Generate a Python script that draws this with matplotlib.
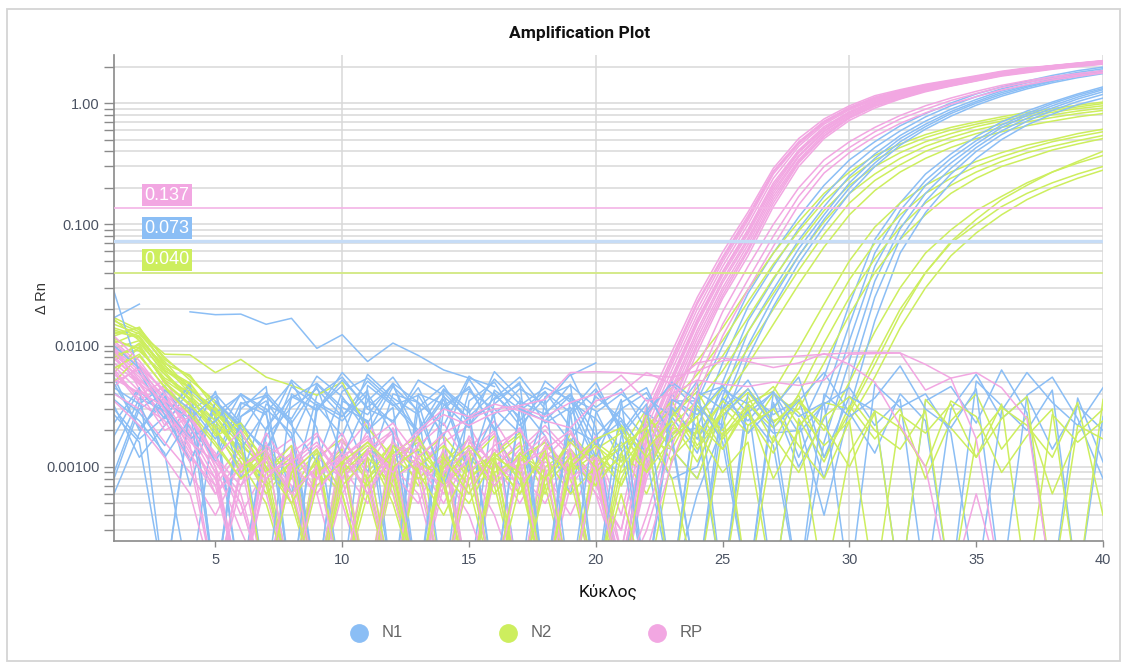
import numpy as np
import matplotlib
matplotlib.use("Agg")
import matplotlib.pyplot as plt
from matplotlib.lines import Line2D
from matplotlib.patches import Rectangle
from matplotlib.ticker import FixedLocator, FixedFormatter, LogLocator, NullFormatter

nan = np.nan

# cycles 1..40
cycles = np.arange(1, 41)

# threshold values per target
targets = ['N1', 'N2', 'RP']
thresholds = [0.073, 0.040, 0.137]
threshold_labels = ['0.073', '0.040', '0.137']

# y tick labels (decades only)
ytick_vals = [0.001, 0.01, 0.1, 1.0]
ytick_labels = ['0.00100', '0.0100', '0.100', '1.00']
xtick_vals = [5, 10, 15, 20, 25, 30, 35, 40]

# delta Rn per well (0.0001 = below the axis floor)
# each well: cycles 1-20 on first line, 21-40 on second
n1_wells = [
    [0.0041, 0.0028, 0.0015, 0.0036, 0.0022, 0.0001, 0.0018, 0.0031, 0.0044, 0.0026, 0.0051, 0.0033, 0.0019, 0.0038, 0.0025, 0.0001, 0.0029, 0.0042, 0.0021, 0.0016,
     0.0024, 0.0010, 0.0035, 0.0035, 0.0100, 0.027, 0.058, 0.115, 0.21, 0.34, 0.48, 0.65, 0.82, 1.00, 1.19, 1.36, 1.52, 1.69, 1.85, 1.98],
    [0.0009, 0.0033, 0.0047, 0.0021, 0.0012, 0.0034, 0.0027, 0.0006, 0.0039, 0.0055, 0.0030, 0.0024, 0.0045, 0.0017, 0.0001, 0.0036, 0.0048, 0.0023, 0.0031, 0.0011,
     0.0001, 0.0028, 0.0019, 0.0021, 0.0072, 0.021, 0.045, 0.092, 0.17, 0.29, 0.43, 0.59, 0.77, 0.95, 1.13, 1.31, 1.47, 1.63, 1.79, 1.92],
    [0.0027, 0.0016, 0.0001, 0.0029, 0.0040, 0.0023, 0.0013, 0.0046, 0.0032, 0.0018, 0.0058, 0.0037, 0.0027, 0.0008, 0.0042, 0.0030, 0.0019, 0.0051, 0.0034, 0.0025,
     0.0014, 0.0001, 0.0026, 0.0013, 0.0050, 0.016, 0.035, 0.074, 0.14, 0.25, 0.38, 0.54, 0.71, 0.89, 1.07, 1.26, 1.41, 1.58, 1.74, 1.86],
    [0.0055, 0.0020, 0.0038, 0.0011, 0.0030, 0.0019, 0.0041, 0.0024, 0.0001, 0.0035, 0.0027, 0.0049, 0.0013, 0.0032, 0.0044, 0.0021, 0.0007, 0.0028, 0.0040, 0.0018,
     0.0030, 0.0017, 0.0008, 0.0010, 0.0038, 0.013, 0.029, 0.063, 0.12, 0.22, 0.35, 0.51, 0.67, 0.85, 1.03, 1.22, 1.38, 1.54, 1.70, 1.83],
    [0.0018, 0.0043, 0.0025, 0.0050, 0.0001, 0.0026, 0.0035, 0.0017, 0.0048, 0.0029, 0.0009, 0.0040, 0.0034, 0.0022, 0.0056, 0.0039, 0.0026, 0.0001, 0.0037, 0.0029,
     0.0011, 0.0026, 0.0014, 0.0008, 0.0030, 0.010, 0.025, 0.055, 0.11, 0.20, 0.32, 0.48, 0.64, 0.82, 1.00, 1.18, 1.35, 1.51, 1.67, 1.80],
    [0.0032, 0.0012, 0.0022, 0.0044, 0.0027, 0.0001, 0.0021, 0.0038, 0.0030, 0.0047, 0.0020, 0.0031, 0.0001, 0.0043, 0.0028, 0.0053, 0.0033, 0.0018, 0.0006, 0.0042,
     0.0022, 0.0012, 0.0001, 0.0006, 0.0022, 0.008, 0.021, 0.048, 0.096, 0.18, 0.30, 0.45, 0.61, 0.78, 0.96, 1.14, 1.31, 1.47, 1.62, 1.75],
    [0.0036, 0.0024, 0.0013, 0.0001, 0.0028, 0.0039, 0.0020, 0.0052, 0.0034, 0.0026, 0.0043, 0.0001, 0.0031, 0.0047, 0.0022, 0.0037, 0.0055, 0.0030, 0.0016, 0.0038,
     0.0025, 0.0013, 0.0040, 0.0021, 0.0001, 0.0033, 0.0019, 0.0020, 0.0055, 0.022, 0.075, 0.15, 0.26, 0.38, 0.53, 0.70, 0.86, 1.02, 1.19, 1.36],
    [0.0013, 0.0037, 0.0029, 0.0018, 0.0042, 0.0008, 0.0033, 0.0025, 0.0056, 0.0038, 0.0019, 0.0046, 0.0029, 0.0001, 0.0035, 0.0050, 0.0024, 0.0041, 0.0028, 0.0001,
     0.0034, 0.0045, 0.0016, 0.0001, 0.0037, 0.0024, 0.0042, 0.0012, 0.0036, 0.015, 0.058, 0.13, 0.23, 0.35, 0.49, 0.66, 0.82, 0.99, 1.16, 1.32],
    [0.0049, 0.0021, 0.0034, 0.0025, 0.0011, 0.0030, 0.0046, 0.0001, 0.0029, 0.0060, 0.0036, 0.0023, 0.0052, 0.0039, 0.0010, 0.0027, 0.0044, 0.0033, 0.0058, 0.0021,
     0.0001, 0.0029, 0.0048, 0.0030, 0.0022, 0.0001, 0.0034, 0.0010, 0.0025, 0.011, 0.045, 0.11, 0.21, 0.32, 0.46, 0.63, 0.79, 0.95, 1.12, 1.29],
    [0.0023, 0.0045, 0.0001, 0.0032, 0.0017, 0.0040, 0.0028, 0.0050, 0.0021, 0.0001, 0.0047, 0.0032, 0.0039, 0.0018, 0.0053, 0.0026, 0.0001, 0.0038, 0.0047, 0.0031,
     0.0044, 0.0020, 0.0001, 0.0039, 0.0046, 0.0028, 0.0015, 0.0001, 0.0016, 0.0075, 0.034, 0.092, 0.18, 0.29, 0.43, 0.59, 0.75, 0.91, 1.08, 1.24],
    [0.0008, 0.0030, 0.0041, 0.0007, 0.0035, 0.0022, 0.0014, 0.0037, 0.0049, 0.0031, 0.0024, 0.0001, 0.0040, 0.0033, 0.0021, 0.0061, 0.0037, 0.0001, 0.0029, 0.0050,
     0.0019, 0.0037, 0.0026, 0.0051, 0.0001, 0.0041, 0.0027, 0.0036, 0.0008, 0.0050, 0.025, 0.076, 0.155, 0.26, 0.40, 0.55, 0.71, 0.87, 1.03, 1.18],
    [0.0030, 0.0017, 0.0026, 0.0047, 0.0001, 0.0033, 0.0039, 0.0022, 0.0011, 0.0042, 0.0054, 0.0035, 0.0020, 0.0044, 0.0030, 0.0001, 0.0032, 0.0045, 0.0036, 0.0012,
     0.0036, 0.0001, 0.0031, 0.0017, 0.0043, 0.0033, 0.0001, 0.0024, 0.0004, 0.0030, 0.016, 0.058, 0.125, 0.22, 0.35, 0.50, 0.66, 0.81, 0.97, 1.10],
    [0.0170, 0.0220, nan, 0.0190, 0.0180, 0.0182, 0.0150, 0.0168, 0.0095, 0.0123, 0.0074, 0.0105, 0.0083, 0.0063, 0.0054, 0.0046, nan, nan, 0.0057, 0.0072,
     nan, nan, nan, nan, nan, 0.0028, 0.0041, 0.0019, 0.0033, 0.0045, 0.0022, 0.0036, 0.0001, 0.0030, 0.0058, 0.0025, 0.0038, 0.0014, 0.0032, 0.0020],
    [0.0280, 0.0060, 0.0027, 0.0011, 0.0034, 0.0021, 0.0001, 0.0040, 0.0029, 0.0052, 0.0031, 0.0047, 0.0018, 0.0036, 0.0009, 0.0043, 0.0030, 0.0024, 0.0039, 0.0015,
     0.0030, 0.0041, 0.0018, 0.0001, 0.0026, 0.0044, 0.0021, 0.0035, 0.0060, 0.0028, 0.0013, 0.0040, 0.0024, 0.0001, 0.0051, 0.0032, 0.0020, 0.0043, 0.0001, 0.0026],
    [0.0006, 0.0019, 0.0043, 0.0030, 0.0001, 0.0026, 0.0038, 0.0023, 0.0046, 0.0012, 0.0035, 0.0055, 0.0028, 0.0041, 0.0025, 0.0033, 0.0050, 0.0001, 0.0027, 0.0044,
     0.0021, 0.0001, 0.0036, 0.0027, 0.0047, 0.0019, 0.0031, 0.0055, 0.0012, 0.0038, 0.0029, 0.0001, 0.0035, 0.0046, 0.0023, 0.0063, 0.0028, 0.0001, 0.0037, 0.0011],
    [0.0100, 0.0065, 0.0031, 0.0017, 0.0024, 0.0040, 0.0030, 0.0019, 0.0001, 0.0037, 0.0023, 0.0049, 0.0034, 0.0007, 0.0026, 0.0041, 0.0022, 0.0037, 0.0001, 0.0028,
     0.0040, 0.0027, 0.0050, 0.0035, 0.0016, 0.0001, 0.0041, 0.0026, 0.0034, 0.0001, 0.0048, 0.0031, 0.0040, 0.0019, 0.0001, 0.0029, 0.0060, 0.0034, 0.0022, 0.0045],
    [0.0045, 0.0033, 0.0012, 0.0025, 0.0038, 0.0014, 0.0029, 0.0001, 0.0033, 0.0024, 0.0040, 0.0019, 0.0001, 0.0030, 0.0046, 0.0020, 0.0035, 0.0027, 0.0048, 0.0001,
     0.0018, 0.0033, 0.0001, 0.0042, 0.0030, 0.0052, 0.0023, 0.0001, 0.0040, 0.0026, 0.0037, 0.0068, 0.0030, 0.0021, 0.0044, 0.0001, 0.0039, 0.0055, 0.0025, 0.0008],
]

n2_wells = [
    [0.0170, 0.0135, 0.0080, 0.0052, 0.0035, 0.0021, 0.0011, 0.0006, 0.0014, 0.0001, 0.0009, 0.0016, 0.0007, 0.0012, 0.0001, 0.0010, 0.0015, 0.0006, 0.0019, 0.0011,
     0.0014, 0.0030, 0.0045, 0.0075, 0.014, 0.029, 0.058, 0.105, 0.18, 0.27, 0.37, 0.46, 0.55, 0.63, 0.70, 0.77, 0.84, 0.90, 0.96, 1.02],
    [0.0120, 0.0142, 0.0068, 0.0045, 0.0028, 0.0016, 0.0009, 0.0013, 0.0001, 0.0008, 0.0014, 0.0006, 0.0001, 0.0011, 0.0017, 0.0007, 0.0001, 0.0013, 0.0009, 0.0016,
     0.0007, 0.0022, 0.0034, 0.0058, 0.011, 0.023, 0.047, 0.088, 0.155, 0.24, 0.34, 0.43, 0.52, 0.60, 0.67, 0.74, 0.81, 0.87, 0.93, 0.99],
    [0.0095, 0.0110, 0.0058, 0.0039, 0.0024, 0.0013, 0.0007, 0.0001, 0.0012, 0.0017, 0.0008, 0.0001, 0.0013, 0.0007, 0.0011, 0.0018, 0.0009, 0.0001, 0.0014, 0.0008,
     0.0012, 0.0009, 0.0027, 0.0045, 0.0082, 0.017, 0.036, 0.070, 0.13, 0.21, 0.30, 0.39, 0.48, 0.56, 0.64, 0.71, 0.78, 0.84, 0.90, 0.95],
    [0.0150, 0.0125, 0.0074, 0.0043, 0.0031, 0.0018, 0.0012, 0.0005, 0.0001, 0.0010, 0.0015, 0.0009, 0.0018, 0.0001, 0.0008, 0.0013, 0.0019, 0.0007, 0.0001, 0.0012,
     0.0009, 0.0016, 0.0014, 0.0034, 0.0062, 0.013, 0.027, 0.055, 0.105, 0.18, 0.26, 0.35, 0.44, 0.52, 0.60, 0.67, 0.74, 0.80, 0.86, 0.91],
    [0.0060, 0.0098, 0.0050, 0.0033, 0.0019, 0.0010, 0.0015, 0.0008, 0.0013, 0.0001, 0.0006, 0.0012, 0.0016, 0.0008, 0.0001, 0.0011, 0.0006, 0.0015, 0.0010, 0.0001,
     0.0013, 0.0006, 0.0019, 0.0026, 0.0045, 0.0095, 0.020, 0.042, 0.083, 0.15, 0.23, 0.31, 0.40, 0.48, 0.56, 0.63, 0.70, 0.76, 0.82, 0.87],
    [0.0130, 0.0118, 0.0062, 0.0048, 0.0026, 0.0015, 0.0010, 0.0001, 0.0009, 0.0014, 0.0001, 0.0008, 0.0012, 0.0018, 0.0010, 0.0001, 0.0012, 0.0008, 0.0017, 0.0011,
     0.0001, 0.0010, 0.0021, 0.0019, 0.0035, 0.0070, 0.015, 0.032, 0.065, 0.12, 0.19, 0.27, 0.35, 0.43, 0.51, 0.58, 0.65, 0.71, 0.77, 0.82],
    [0.0105, 0.0128, 0.0085, 0.0084, 0.0060, 0.0077, 0.0055, 0.0047, 0.0039, 0.0050, 0.0021, 0.0012, 0.0001, 0.0009, 0.0014, 0.0006, 0.0011, 0.0001, 0.0010, 0.0016,
     0.0011, 0.0025, 0.0018, 0.0030, 0.0014, 0.0034, 0.0042, 0.0095, 0.022, 0.050, 0.095, 0.15, 0.21, 0.27, 0.33, 0.39, 0.45, 0.50, 0.56, 0.61],
    [0.0075, 0.0105, 0.0061, 0.0036, 0.0022, 0.0014, 0.0006, 0.0011, 0.0001, 0.0013, 0.0008, 0.0016, 0.0010, 0.0001, 0.0012, 0.0007, 0.0013, 0.0009, 0.0001, 0.0014,
     0.0019, 0.0010, 0.0028, 0.0017, 0.0035, 0.0022, 0.0030, 0.0060, 0.015, 0.035, 0.070, 0.12, 0.18, 0.24, 0.30, 0.36, 0.42, 0.48, 0.53, 0.58],
    [0.0160, 0.0130, 0.0071, 0.0057, 0.0030, 0.0017, 0.0010, 0.0006, 0.0011, 0.0001, 0.0012, 0.0007, 0.0001, 0.0015, 0.0009, 0.0013, 0.0001, 0.0010, 0.0014, 0.0007,
     0.0013, 0.0024, 0.0011, 0.0032, 0.0020, 0.0038, 0.0016, 0.0040, 0.0105, 0.025, 0.052, 0.095, 0.15, 0.21, 0.27, 0.33, 0.39, 0.44, 0.49, 0.54],
    [0.0085, 0.0092, 0.0054, 0.0041, 0.0027, 0.0012, 0.0008, 0.0001, 0.0010, 0.0006, 0.0001, 0.0012, 0.0008, 0.0013, 0.0001, 0.0009, 0.0012, 0.0016, 0.0008, 0.0001,
     0.0008, 0.0021, 0.0035, 0.0015, 0.0029, 0.0044, 0.0024, 0.0030, 0.0072, 0.018, 0.040, 0.075, 0.12, 0.18, 0.24, 0.30, 0.35, 0.41, 0.46, 0.51],
    [0.0140, 0.0120, 0.0065, 0.0049, 0.0026, 0.0013, 0.0008, 0.0012, 0.0001, 0.0010, 0.0016, 0.0009, 0.0001, 0.0013, 0.0007, 0.0001, 0.0011, 0.0016, 0.0009, 0.0013,
     0.0007, 0.0019, 0.0030, 0.0014, 0.0027, 0.0041, 0.0023, 0.0036, 0.0020, 0.0050, 0.013, 0.030, 0.058, 0.090, 0.13, 0.17, 0.22, 0.27, 0.32, 0.37],
    [0.0110, 0.0095, 0.0052, 0.0037, 0.0020, 0.0011, 0.0005, 0.0001, 0.0009, 0.0013, 0.0006, 0.0001, 0.0011, 0.0008, 0.0014, 0.0001, 0.0007, 0.0012, 0.0006, 0.0010,
     0.0016, 0.0009, 0.0022, 0.0035, 0.0017, 0.0030, 0.0046, 0.0022, 0.0034, 0.0030, 0.0080, 0.020, 0.040, 0.070, 0.10, 0.14, 0.18, 0.22, 0.26, 0.30],
    [0.0050, 0.0082, 0.0046, 0.0029, 0.0016, 0.0008, 0.0013, 0.0006, 0.0001, 0.0011, 0.0007, 0.0014, 0.0001, 0.0009, 0.0005, 0.0012, 0.0001, 0.0008, 0.0013, 0.0001,
     0.0010, 0.0027, 0.0014, 0.0008, 0.0031, 0.0019, 0.0040, 0.0028, 0.0015, 0.0024, 0.0055, 0.014, 0.030, 0.055, 0.085, 0.12, 0.16, 0.20, 0.24, 0.28],
    [0.0125, 0.0140, 0.0077, 0.0055, 0.0033, 0.0020, 0.0009, 0.0015, 0.0001, 0.0007, 0.0012, 0.0001, 0.0010, 0.0015, 0.0008, 0.0012, 0.0018, 0.0001, 0.0011, 0.0007,
     0.0022, 0.0012, 0.0026, 0.0042, 0.0018, 0.0033, 0.0021, 0.0039, 0.0012, 0.0028, 0.0070, 0.018, 0.040, 0.072, 0.11, 0.16, 0.21, 0.27, 0.33, 0.40],
    [0.0115, 0.0090, 0.0058, 0.0035, 0.0024, 0.0012, 0.0007, 0.0011, 0.0001, 0.0009, 0.0014, 0.0005, 0.0001, 0.0010, 0.0015, 0.0009, 0.0001, 0.0007, 0.0012, 0.0001,
     0.0006, 0.0001, 0.0012, 0.0020, 0.0009, 0.0016, 0.0001, 0.0025, 0.0011, 0.0032, 0.0017, 0.0030, 0.0008, 0.0024, 0.0040, 0.0014, 0.0026, 0.0006, 0.0019, 0.0030],
    [0.0165, 0.0110, 0.0069, 0.0040, 0.0018, 0.0023, 0.0010, 0.0005, 0.0012, 0.0001, 0.0008, 0.0013, 0.0018, 0.0007, 0.0001, 0.0011, 0.0006, 0.0014, 0.0001, 0.0009,
     0.0015, 0.0021, 0.0008, 0.0001, 0.0019, 0.0027, 0.0013, 0.0034, 0.0022, 0.0010, 0.0028, 0.0001, 0.0036, 0.0021, 0.0012, 0.0033, 0.0001, 0.0027, 0.0016, 0.0024],
    [0.0080, 0.0102, 0.0049, 0.0032, 0.0021, 0.0009, 0.0014, 0.0001, 0.0007, 0.0011, 0.0001, 0.0015, 0.0009, 0.0004, 0.0011, 0.0001, 0.0013, 0.0008, 0.0016, 0.0010,
     0.0001, 0.0014, 0.0024, 0.0011, 0.0030, 0.0001, 0.0018, 0.0009, 0.0026, 0.0038, 0.0020, 0.0014, 0.0029, 0.0001, 0.0017, 0.0031, 0.0022, 0.0012, 0.0034, 0.0004],
    [0.0135, 0.0115, 0.0063, 0.0044, 0.0029, 0.0016, 0.0001, 0.0009, 0.0014, 0.0006, 0.0001, 0.0010, 0.0014, 0.0008, 0.0001, 0.0012, 0.0009, 0.0001, 0.0010, 0.0015,
     0.0010, 0.0019, 0.0001, 0.0023, 0.0014, 0.0031, 0.0008, 0.0020, 0.0001, 0.0013, 0.0029, 0.0021, 0.0010, 0.0035, 0.0026, 0.0009, 0.0018, 0.0030, 0.0001, 0.0036],
    [0.0065, 0.0085, 0.0045, 0.0027, 0.0015, 0.0008, 0.0012, 0.0006, 0.0001, 0.0011, 0.0016, 0.0010, 0.0001, 0.0012, 0.0006, 0.0013, 0.0008, 0.0001, 0.0011, 0.0017,
     0.0021, 0.0009, 0.0017, 0.0026, 0.0001, 0.0022, 0.0030, 0.0015, 0.0008, 0.0024, 0.0001, 0.0027, 0.0019, 0.0033, 0.0012, 0.0025, 0.0038, 0.0001, 0.0022, 0.0017],
]

rp_wells = [
    [0.0095, 0.0062, 0.0038, 0.0021, 0.0009, 0.0001, 0.0013, 0.0007, 0.0001, 0.0016, 0.0010, 0.0021, 0.0008, 0.0001, 0.0012, 0.0019, 0.0006, 0.0011, 0.0009, 0.0015,
     0.0004, 0.0032, 0.0089, 0.025, 0.059, 0.126, 0.29, 0.51, 0.74, 0.95, 1.15, 1.29, 1.43, 1.55, 1.68, 1.83, 1.95, 2.04, 2.14, 2.24],
    [0.0072, 0.0048, 0.0025, 0.0034, 0.0011, 0.0006, 0.0001, 0.0009, 0.0014, 0.0005, 0.0001, 0.0011, 0.0017, 0.0009, 0.0004, 0.0001, 0.0013, 0.0020, 0.0012, 0.0007,
     0.0003, 0.0028, 0.0080, 0.023, 0.054, 0.118, 0.275, 0.48, 0.71, 0.92, 1.12, 1.27, 1.41, 1.53, 1.66, 1.81, 1.93, 2.03, 2.13, 2.23],
    [0.0110, 0.0070, 0.0041, 0.0018, 0.0006, 0.0012, 0.0008, 0.0001, 0.0011, 0.0019, 0.0007, 0.0001, 0.0010, 0.0016, 0.0022, 0.0009, 0.0001, 0.0008, 0.0017, 0.0010,
     0.0002, 0.0024, 0.0070, 0.020, 0.049, 0.108, 0.26, 0.46, 0.69, 0.90, 1.09, 1.24, 1.39, 1.50, 1.64, 1.80, 1.92, 2.03, 2.12, 2.22],
    [0.0058, 0.0039, 0.0052, 0.0024, 0.0013, 0.0004, 0.0010, 0.0015, 0.0006, 0.0001, 0.0013, 0.0008, 0.0001, 0.0007, 0.0014, 0.0024, 0.0011, 0.0001, 0.0009, 0.0018,
     0.0002, 0.0021, 0.0063, 0.018, 0.045, 0.100, 0.24, 0.44, 0.67, 0.88, 1.07, 1.22, 1.37, 1.48, 1.62, 1.78, 1.89, 2.02, 2.11, 2.21],
    [0.0085, 0.0055, 0.0030, 0.0015, 0.0001, 0.0009, 0.0016, 0.0005, 0.0012, 0.0008, 0.0020, 0.0006, 0.0001, 0.0012, 0.0007, 0.0013, 0.0021, 0.0009, 0.0004, 0.0012,
     0.00015, 0.0018, 0.0056, 0.0165, 0.041, 0.091, 0.22, 0.41, 0.64, 0.85, 1.05, 1.20, 1.35, 1.46, 1.60, 1.76, 1.87, 2.01, 2.10, 2.20],
    [0.0046, 0.0068, 0.0035, 0.0028, 0.0010, 0.0003, 0.0001, 0.0011, 0.0018, 0.0010, 0.0005, 0.0015, 0.0009, 0.0019, 0.0001, 0.0008, 0.0014, 0.0022, 0.0013, 0.0006,
     0.00013, 0.0016, 0.0050, 0.015, 0.038, 0.083, 0.20, 0.39, 0.61, 0.83, 1.02, 1.18, 1.33, 1.44, 1.59, 1.75, 1.86, 2.00, 2.09, 2.19],
    [0.0100, 0.0044, 0.0027, 0.0012, 0.0007, 0.0014, 0.0006, 0.0001, 0.0009, 0.0013, 0.0024, 0.0010, 0.0006, 0.0001, 0.0016, 0.0011, 0.0005, 0.0012, 0.0019, 0.0009,
     0.0001, 0.0014, 0.0045, 0.0135, 0.035, 0.077, 0.19, 0.37, 0.59, 0.81, 1.00, 1.16, 1.32, 1.43, 1.58, 1.74, 1.85, 1.98, 2.07, 2.17],
    [0.0064, 0.0036, 0.0046, 0.0019, 0.0008, 0.0001, 0.0012, 0.0017, 0.0007, 0.0011, 0.0001, 0.0009, 0.0015, 0.0023, 0.0010, 0.0004, 0.0001, 0.0015, 0.0010, 0.0017,
     0.0001, 0.0011, 0.0038, 0.0115, 0.030, 0.068, 0.17, 0.34, 0.56, 0.77, 0.97, 1.12, 1.29, 1.41, 1.55, 1.71, 1.82, 1.95, 2.04, 2.14],
    [0.0078, 0.0051, 0.0022, 0.0030, 0.0012, 0.0007, 0.0019, 0.0009, 0.0001, 0.0006, 0.0014, 0.0020, 0.0008, 0.0012, 0.0001, 0.0017, 0.0009, 0.0005, 0.0013, 0.0008,
     0.0001, 0.0009, 0.0032, 0.0098, 0.026, 0.060, 0.15, 0.32, 0.53, 0.75, 0.94, 1.09, 1.26, 1.39, 1.53, 1.69, 1.80, 1.92, 2.02, 2.11],
    [0.0040, 0.0030, 0.0016, 0.0009, 0.0004, 0.0011, 0.0001, 0.0014, 0.0008, 0.0017, 0.0009, 0.0001, 0.0012, 0.0006, 0.0018, 0.0010, 0.0016, 0.0001, 0.0007, 0.0013,
     0.0001, 0.0008, 0.0028, 0.0089, 0.0245, 0.055, 0.14, 0.30, 0.51, 0.72, 0.91, 1.08, 1.24, 1.38, 1.52, 1.67, 1.78, 1.90, 2.00, 2.09],
    [0.0082, 0.0049, 0.0033, 0.0014, 0.0008, 0.0015, 0.0001, 0.0010, 0.0006, 0.0013, 0.0001, 0.0018, 0.0011, 0.0005, 0.0013, 0.0020, 0.0001, 0.0009, 0.0014, 0.0006,
     0.0003, 0.0026, 0.0075, 0.022, 0.052, 0.113, 0.27, 0.47, 0.70, 0.91, 1.10, 1.25, 1.40, 1.51, 1.65, 1.80, 1.92, 2.03, 2.12, 2.22],
    [0.0053, 0.0041, 0.0020, 0.0026, 0.0010, 0.0001, 0.0008, 0.0013, 0.0019, 0.0009, 0.0012, 0.0001, 0.0016, 0.0010, 0.0006, 0.0014, 0.0009, 0.0017, 0.0001, 0.0011,
     0.00014, 0.0017, 0.0053, 0.0158, 0.040, 0.087, 0.21, 0.40, 0.62, 0.84, 1.03, 1.19, 1.34, 1.45, 1.59, 1.75, 1.86, 2.00, 2.09, 2.19],
    [0.0105, 0.0066, 0.0043, 0.0027, 0.0012, 0.0005, 0.0001, 0.0012, 0.0008, 0.0015, 0.0006, 0.0013, 0.0001, 0.0009, 0.0017, 0.0008, 0.0012, 0.0001, 0.0016, 0.0010,
     0.0001, 0.0013, 0.0042, 0.0125, 0.033, 0.073, 0.18, 0.36, 0.58, 0.79, 0.99, 1.14, 1.30, 1.42, 1.56, 1.72, 1.84, 1.97, 2.06, 2.16],
    [0.0061, 0.0034, 0.0024, 0.0011, 0.0001, 0.0010, 0.0014, 0.0006, 0.0001, 0.0012, 0.0017, 0.0009, 0.0005, 0.0014, 0.0001, 0.0011, 0.0007, 0.0013, 0.0010, 0.0001,
     0.0001, 0.0010, 0.0034, 0.0105, 0.028, 0.063, 0.16, 0.33, 0.54, 0.76, 0.95, 1.10, 1.27, 1.40, 1.54, 1.70, 1.81, 1.93, 2.03, 2.12],
    [0.0068, 0.0042, 0.0031, 0.0016, 0.0011, 0.0005, 0.0001, 0.0010, 0.0015, 0.0008, 0.0013, 0.0019, 0.0001, 0.0009, 0.0014, 0.0007, 0.0012, 0.0018, 0.0008, 0.0012,
     0.0001, 0.0004, 0.0020, 0.0065, 0.019, 0.045, 0.100, 0.20, 0.34, 0.48, 0.63, 0.79, 0.95, 1.10, 1.25, 1.40, 1.53, 1.65, 1.75, 1.85],
    [0.0092, 0.0058, 0.0036, 0.0022, 0.0009, 0.0001, 0.0015, 0.0011, 0.0006, 0.0012, 0.0018, 0.0008, 0.0011, 0.0001, 0.0009, 0.0015, 0.0020, 0.0010, 0.0001, 0.0010,
     0.0001, 0.0003, 0.0015, 0.0050, 0.015, 0.035, 0.080, 0.170, 0.30, 0.43, 0.58, 0.74, 0.89, 1.05, 1.20, 1.35, 1.48, 1.60, 1.70, 1.80],
    [0.0050, 0.0064, 0.0029, 0.0013, 0.0006, 0.0010, 0.0014, 0.0001, 0.0008, 0.0013, 0.0006, 0.0016, 0.0010, 0.0007, 0.0012, 0.0001, 0.0010, 0.0014, 0.0020, 0.0009,
     0.0001, 0.0002, 0.0011, 0.0039, 0.012, 0.029, 0.066, 0.145, 0.265, 0.39, 0.53, 0.68, 0.83, 0.98, 1.13, 1.28, 1.42, 1.55, 1.66, 1.77],
    [0.0120, 0.0075, 0.0040, 0.0025, 0.0012, 0.0020, 0.0008, 0.0013, 0.0001, 0.0010, 0.0016, 0.0023, 0.0012, 0.0019, 0.0025, 0.0030, 0.0032, 0.0036, 0.0060, 0.0061,
     0.0060, 0.0057, 0.0055, 0.0062, 0.0075, 0.0078, 0.0080, 0.0082, 0.0085, 0.0087, 0.0088, 0.0087, 0.0070, 0.0054, 0.0017, 0.0001, 0.0001, 0.0001, 0.0001, 0.0001],
    [0.0035, 0.0022, 0.0012, 0.0006, 0.0001, 0.0007, 0.0012, 0.0006, 0.0010, 0.0001, 0.0014, 0.0009, 0.0019, 0.0027, 0.0022, 0.0028, 0.0031, 0.0026, 0.0034, 0.0040,
     0.0057, 0.0035, 0.0040, 0.0052, 0.0048, 0.0046, 0.0050, 0.0047, 0.0052, 0.0085, 0.0086, 0.0087, 0.0043, 0.0054, 0.0060, 0.0045, 0.0025, 0.0001, 0.0001, 0.0001],
    [0.0090, 0.0052, 0.0034, 0.0017, 0.0007, 0.0001, 0.0009, 0.0011, 0.0016, 0.0008, 0.0001, 0.0012, 0.0020, 0.0030, 0.0026, 0.0033, 0.0029, 0.0024, 0.0021, 0.0035,
     0.0041, 0.0060, 0.0048, 0.0072, 0.0079, 0.0074, 0.0066, 0.0072, 0.0086, 0.0070, 0.0050, 0.0022, 0.0010, 0.0001, 0.0006, 0.0001, 0.0001, 0.0001, 0.0001, 0.0001],
]

colors = ['#8bbef5', '#cdee5e', '#f2a7e2']
thr_colors = ['#c6dcf6', '#d3ec7c', '#f4b4e6']

fig = plt.figure(figsize=(11.32, 6.63), dpi=100)
ax = fig.add_axes([0.1007, 0.184, 0.8737, 0.733])

# outer frame of the panel
fig.add_artist(Rectangle((0.0065, 0.003), 0.983, 0.984, transform=fig.transFigure,
                         fill=False, edgecolor='#d4d4d4', linewidth=1.3))

ax.set_yscale('log')
ax.set_xlim(1, 40)
ax.set_ylim(0.000245, 2.49)

# grid
ax.yaxis.set_major_locator(FixedLocator(ytick_vals))
ax.yaxis.set_major_formatter(FixedFormatter(ytick_labels))
ax.yaxis.set_minor_locator(LogLocator(base=10, subs=np.arange(2, 10)))
ax.yaxis.set_minor_formatter(NullFormatter())
ax.set_xticks(xtick_vals)
for yy in ax.get_yticks(minor=True).tolist() + ytick_vals:
    if 0.000245 < yy < 2.49:
        ax.axhline(yy, color='#d9d9d9', lw=1.1, zorder=0)
for xx in [10, 20, 30, 40]:
    ax.axvline(xx, color='#d9d9d9', lw=1.1, zorder=0)

# amplification curves, drawn well by well
nmax = max(len(n1_wells), len(n2_wells), len(rp_wells))
for i in range(nmax):
    for wells, c in zip([n1_wells, n2_wells, rp_wells], colors):
        if i < len(wells):
            ax.plot(cycles, wells[i], color=c, lw=1.1, zorder=2)

# threshold lines and their labels
thr_lw = [2.4, 1.2, 1.2]
for thr, lab, c, tc, lw in zip(thresholds, threshold_labels, colors, thr_colors, thr_lw):
    ax.axhline(thr, color=tc, lw=lw, zorder=3)
    ax.annotate(lab, xy=(2.2, thr), xytext=(0, 3), textcoords='offset points',
                ha='left', va='bottom', color='white', fontsize=13, family='Liberation Sans',
                bbox=dict(boxstyle='square,pad=0.14', fc=c, ec='none'), zorder=4)

for s in ['top', 'right']:
    ax.spines[s].set_visible(False)
for s in ['left', 'bottom']:
    ax.spines[s].set_color('#8a8a8a')
    ax.spines[s].set_linewidth(1.2)

ax.tick_params(axis='y', which='both', length=7.5, width=1.0, color='#8a8a8a',
               labelsize=10.5, labelcolor='#4a5262', pad=3)
ax.tick_params(axis='x', which='both', length=4.5, width=1.0, color='#8a8a8a',
               labelsize=10.5, labelcolor='#4a5262', pad=4)
for lbl in ax.get_xticklabels() + ax.get_yticklabels():
    lbl.set_family('Liberation Sans')

ax.set_xlabel('Κύκλος', fontsize=12.5, family='Roboto', color='#111111', labelpad=12)
ax.set_ylabel('Δ Rn', fontsize=10.5, family='Liberation Sans', color='#333333')
ax.yaxis.set_label_coords(-0.066, 0.5)

fig.text(0.512, 0.950, 'Amplification Plot', ha='center', va='center',
         fontsize=12.5, fontweight='bold', family='Roboto', color='#111111')

# legend row
leg_x = [0.317, 0.449, 0.580]
for x0, lab, c in zip(leg_x, targets, colors):
    fig.add_artist(Line2D([x0], [0.046], marker='o', markersize=12.5, color=c,
                          markeredgecolor=c, transform=fig.transFigure))
    fig.text(x0 + 0.020, 0.046, lab, ha='left', va='center', fontsize=12,
             family='Liberation Sans', color='#666666')

fig.savefig('out.png', dpi=100)
